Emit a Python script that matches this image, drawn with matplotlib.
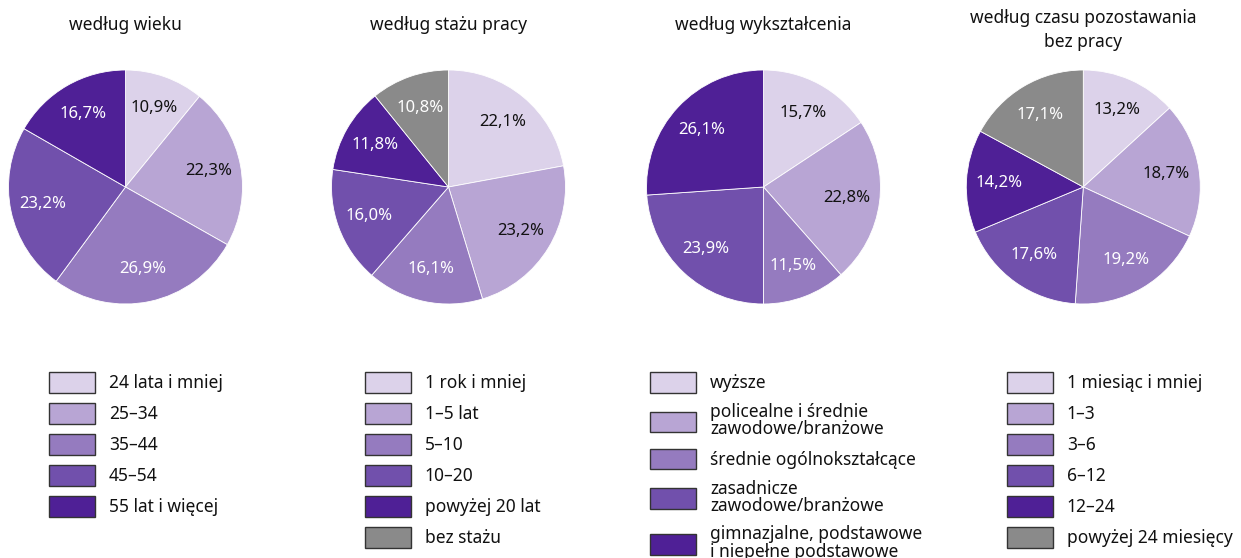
import matplotlib
matplotlib.use("Agg")
import matplotlib.pyplot as plt
from matplotlib.patches import Patch

plt.rcParams["font.family"] = ["Noto Sans", "DejaVu Sans"]

# dane
titles = ["według wieku", "według stażu pracy", "według wykształcenia",
          "według czasu pozostawania\nbez pracy"]

wiek_vals = [10.9, 22.3, 26.9, 23.2, 16.7]
wiek_labels = ["24 lata i mniej", "25–34", "35–44", "45–54", "55 lat i więcej"]

staz_vals = [22.1, 23.2, 16.1, 16.0, 11.8, 10.8]
staz_labels = ["1 rok i mniej", "1–5 lat", "5–10", "10–20", "powyżej 20 lat", "bez stażu"]

wykszt_vals = [15.7, 22.8, 11.5, 23.9, 26.1]
wykszt_labels = ["wyższe", "policealne i średnie\nzawodowe/branżowe",
                 "średnie ogólnokształcące", "zasadnicze\nzawodowe/branżowe",
                 "gimnazjalne, podstawowe\ni niepełne podstawowe"]

czas_vals = [13.2, 18.7, 19.2, 17.6, 14.2, 17.1]
czas_labels = ["1 miesiąc i mniej", "1–3", "3–6", "6–12", "12–24", "powyżej 24 miesięcy"]

purples = ["#dcd2ea", "#b8a5d4", "#957bbf", "#7150ac", "#4f2096"]
grey = "#8a8a8a"

W, H = 1241, 558
fig = plt.figure(figsize=(W / 100, H / 100), dpi=100)

charts = [
    (wiek_vals, wiek_labels, purples, 125.5, 49),
    (staz_vals, staz_labels, purples + [grey], 448.5, 365),
    (wykszt_vals, wykszt_labels, purples, 763.5, 650),
    (czas_vals, czas_labels, purples + [grey], 1083.3, 1007),
]
cy, r = 187, 117
fs = 12.5

for i, (vals, labels, colors, cx, lx) in enumerate(charts):
    ax = fig.add_axes([(cx - r) / W, 1 - (cy + r) / H, 2 * r / W, 2 * r / H])
    wedges, texts, autotexts = ax.pie(
        vals, colors=colors, startangle=90, counterclock=False,
        autopct=lambda p: f"{p:.1f}%".replace(".", ","), pctdistance=0.72,
        wedgeprops=dict(edgecolor="white", linewidth=0.6),
        textprops=dict(fontsize=12))
    for j, t in enumerate(autotexts):
        t.set_color("#111111" if j < 2 else "white")
    ax.set_xlim(-1, 1)
    ax.set_ylim(-1, 1)
    ax.axis("off")

    ty = 25 if "\n" not in titles[i] else 30
    fig.text(cx, H - ty, titles[i], transform=None, ha="center", va="center",
             fontsize=fs, color="#111111", linespacing=1.45)

    handles = [Patch(facecolor=c, edgecolor="#333333", linewidth=1) for c in colors]
    leg = fig.legend(handles, labels, loc="upper left",
                     bbox_to_anchor=(lx / W, 1 - 372 / H), frameon=False,
                     borderpad=0, borderaxespad=0, handlelength=2.65, handleheight=1.45,
                     handletextpad=0.8, labelspacing=0.6, fontsize=fs)
    for t in leg.get_texts():
        t.set_linespacing(0.95)
        t.set_color("#111111")

fig.savefig("out.png", dpi=100)
